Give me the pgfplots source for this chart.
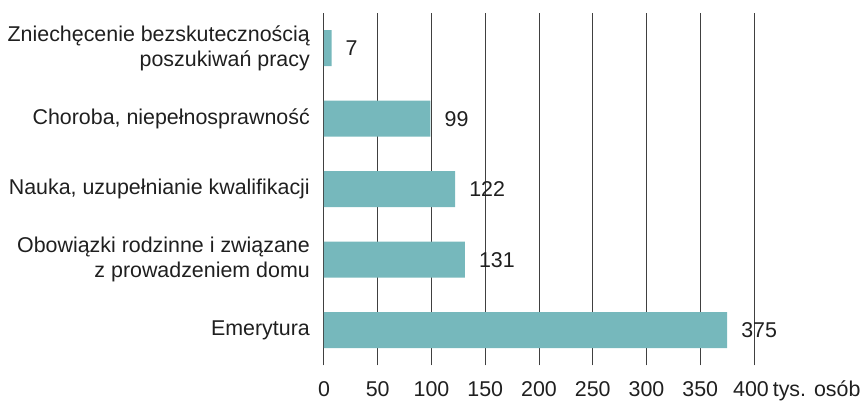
\documentclass[border=0pt]{standalone}
\usepackage{fontspec}
\setmainfont{Liberation Sans}
\usepackage{pgfplots}
\pgfplotsset{compat=1.18}
\definecolor{barc}{RGB}{118,184,188}
\begin{document}
\begin{tikzpicture}
\begin{axis}[
  name=ax,
  scale only axis, width=430pt, height=352.5pt,
  xbar, bar width=36pt,
  xmin=0, xmax=400, ymin=-0.5, ymax=4.5,
  xtick={0,50,...,400},
  xticklabels={0,50,100,150,200,250,300,350,{400\rlap{\kern4pt tys. osób}\kern6pt}},
  ytick={0,1,2,3,4},
  yticklabels={Emerytura,{Obowiązki rodzinne i związane\\z prowadzeniem domu},{Nauka, uzupełnianie kwalifikacji},{Choroba, niepełnosprawność},{Zniechęcenie bezskutecznością\\poszukiwań pracy}},
  /pgf/number format/assume math mode=true,
  axis line style={draw=none},
  major tick length=0pt,
  tick style={draw=none},
  xmajorgrids, ymajorgrids=false,
  grid style={black!75, line width=1pt},
  ticklabel style={font=\fontsize{21.4}{25}\selectfont, text=black!88},
  xticklabel style={anchor=base, inner sep=0pt, yshift=-31.5pt},
  yticklabel style={align=right, inner sep=0pt, xshift=-14pt},
  nodes near coords,
  nodes near coords style={anchor=west, inner sep=0pt, xshift=14pt, font=\fontsize{21.4}{25}\selectfont, text=black!88},
  clip=false,
]
\addplot[fill=barc, draw=none] coordinates {(375,0) (131,1) (122,2) (99,3) (7,4)};
\coordinate (bl) at (axis cs:0,-0.5);
\coordinate (tr) at (axis cs:400,4.5);
\end{axis}
\pgfresetboundingbox
\path[use as bounding box] ([shift={(-324pt,-37.5pt)}]bl) rectangle ([shift={(109pt,13pt)}]tr);
\end{tikzpicture}
\end{document}
